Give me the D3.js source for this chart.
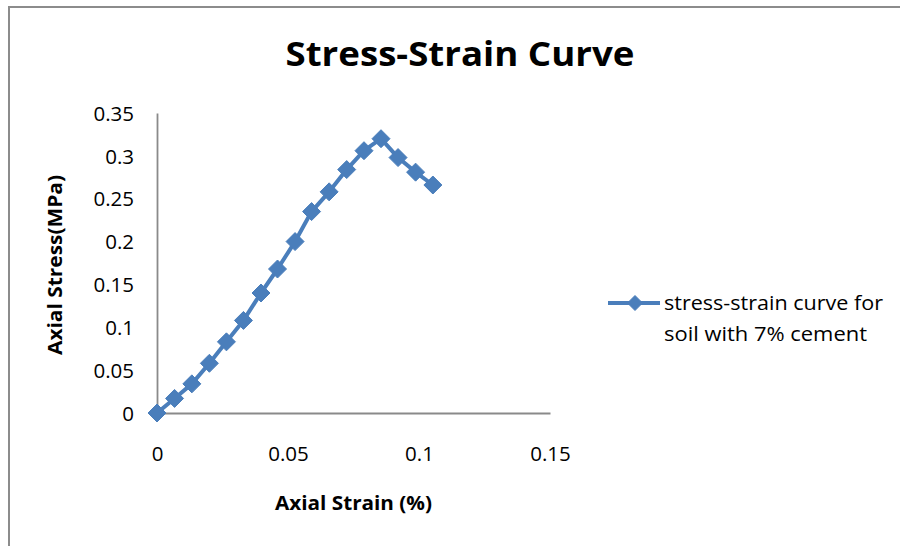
<!DOCTYPE html>
<html>
<head>
<meta charset="utf-8">
<script src="https://cdn.jsdelivr.net/npm/d3@7/dist/d3.min.js"></script>
<style>
  html, body { margin: 0; padding: 0; background: #fff; }
  svg { display: block; }
  text { font-family: "Open Sans", "Liberation Sans", sans-serif; fill: #000; }
</style>
</head>
<body>
<svg id="chart" width="900" height="546"></svg>
<script>
// Axial strain (%) and the matching axial stress (MPa) for soil with 7% cement
const strain = [0, 0.0067, 0.0133, 0.0200, 0.0265, 0.0330, 0.0397, 0.0460, 0.0527,
                0.0590, 0.0657, 0.0724, 0.0790, 0.0855, 0.0920, 0.0987, 0.1053];
const stress = [0, 0.017, 0.034, 0.058, 0.083, 0.108, 0.140, 0.168, 0.200,
                0.235, 0.258, 0.284, 0.306, 0.320, 0.298, 0.281, 0.266];
const xTicks = [0, 0.05, 0.1, 0.15];
const yTicks = [0, 0.05, 0.1, 0.15, 0.2, 0.25, 0.3, 0.35];
const seriesName = ["stress-strain curve for", "soil with 7% cement"];

const blue = "#4a7ebb";
const axisGray = "#8a8a8a";

const svg = d3.select("#chart");

// outer chart frame
svg.append("rect")
  .attr("x", 9).attr("y", 7)
  .attr("width", 1000).attr("height", 1000)
  .attr("fill", "none")
  .attr("stroke", "#8c8c8c")
  .attr("stroke-width", 2);

const plot = { left: 157, right: 550, top: 113, bottom: 413 };

const x = d3.scaleLinear().domain([0, 0.15]).range([plot.left, plot.right]);
const y = d3.scaleLinear().domain([0, 0.35]).range([plot.bottom, plot.top]);

// title
svg.append("text")
  .attr("x", 460).attr("y", 66)
  .attr("text-anchor", "middle")
  .attr("font-size", 34)
  .attr("font-weight", 700)
  .attr("textLength", 349)
  .attr("lengthAdjust", "spacingAndGlyphs")
  .text("Stress-Strain Curve");

// axes
const xAxis = d3.axisBottom(x).tickValues(xTicks).tickSize(0).tickPadding(0)
  .tickFormat(d => String(d));
const yAxis = d3.axisLeft(y).tickValues(yTicks).tickSize(0).tickPadding(0)
  .tickFormat(d => String(d));

const gx = svg.append("g").attr("transform", `translate(0,${plot.bottom})`).call(xAxis);
gx.select(".domain").attr("stroke", axisGray).attr("stroke-width", 1.8);
gx.selectAll(".tick text")
  .attr("y", 48)
  .attr("dy", null)
  .attr("font-size", 20.5)
  .attr("font-family", "\"Open Sans\", sans-serif")
  .attr("fill", "#000");

const gy = svg.append("g").attr("transform", `translate(${plot.left},0)`).call(yAxis);
gy.select(".domain").attr("stroke", axisGray).attr("stroke-width", 1.8);
gy.selectAll(".tick text")
  .attr("x", -23)
  .attr("dy", "0.35em")
  .attr("font-size", 20.5)
  .attr("font-family", "\"Open Sans\", sans-serif")
  .attr("fill", "#000");

// axis titles
svg.append("text")
  .attr("x", (plot.left + plot.right) / 2).attr("y", 510)
  .attr("text-anchor", "middle")
  .attr("font-size", 20)
  .attr("font-weight", 700)
  .attr("textLength", 157)
  .attr("lengthAdjust", "spacingAndGlyphs")
  .text("Axial Strain (%)");

svg.append("text")
  .attr("transform", "translate(62,265) rotate(-90)")
  .attr("text-anchor", "middle")
  .attr("font-size", 20)
  .attr("font-weight", 700)
  .attr("textLength", 180)
  .attr("lengthAdjust", "spacingAndGlyphs")
  .text("Axial Stress(MPa)");

// series line
const pts = strain.map((s, i) => [s, stress[i]]);
svg.append("path")
  .datum(pts)
  .attr("fill", "none")
  .attr("stroke", blue)
  .attr("stroke-width", 4)
  .attr("stroke-linejoin", "round")
  .attr("d", d3.line().x(d => x(d[0])).y(d => y(d[1])));

// diamond markers
const diamond = (cx, cy, r) => `M${cx},${cy - r}L${cx + r},${cy}L${cx},${cy + r}L${cx - r},${cy}Z`;
svg.append("g").selectAll("path")
  .data(pts)
  .join("path")
  .attr("fill", blue)
  .attr("stroke", blue)
  .attr("stroke-width", 1)
  .attr("d", d => diamond(x(d[0]), y(d[1]), 9));

// legend
const lg = svg.append("g");
lg.append("line")
  .attr("x1", 608).attr("x2", 660)
  .attr("y1", 303).attr("y2", 303)
  .attr("stroke", blue).attr("stroke-width", 4);
lg.append("path")
  .attr("fill", blue).attr("stroke", blue)
  .attr("d", diamond(635, 303, 7.5));
lg.selectAll("text.leg")
  .data(seriesName)
  .join("text")
  .attr("class", "leg")
  .attr("x", 664)
  .attr("y", (d, i) => 310 + i * 31)
  .attr("font-size", 20)
  .attr("textLength", (d, i) => i === 0 ? 219 : 203)
  .attr("lengthAdjust", "spacingAndGlyphs")
  .text(d => d);
</script>
</body>
</html>
